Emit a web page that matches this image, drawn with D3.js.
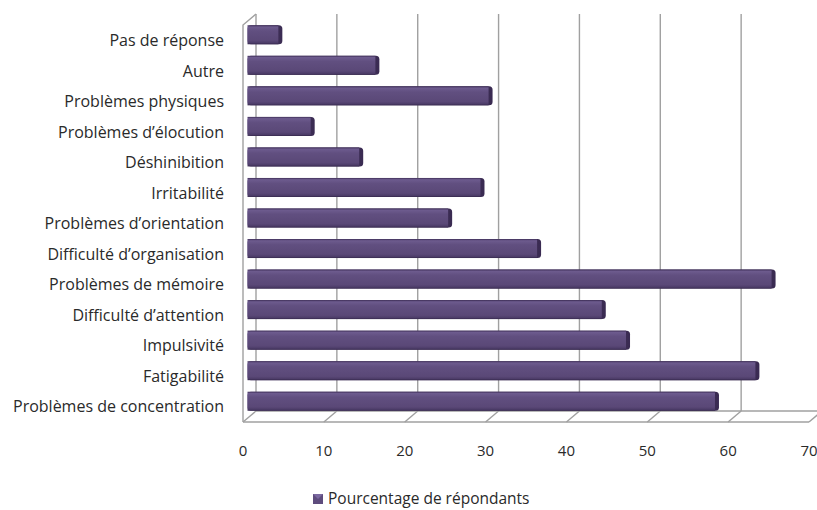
<!DOCTYPE html>
<html>
<head>
<meta charset="utf-8">
<script src="https://cdn.jsdelivr.net/npm/d3@7"></script>
<style>
  body { margin: 0; background: #fff; }
  text { font-family: "Open Sans", Lato, sans-serif; fill: #2a2a2a; }
</style>
</head>
<body>
<div id="chart"></div>
<script>
// data
var categories = ["Pas de réponse", "Autre", "Problèmes physiques", "Problèmes d’élocution",
  "Déshinibition", "Irritabilité", "Problèmes d’orientation", "Difficulté d’organisation",
  "Problèmes de mémoire", "Difficulté d’attention", "Impulsivité", "Fatigabilité",
  "Problèmes de concentration"];
var values = [4, 16, 30, 8, 14, 29, 25, 36, 65, 44, 47, 63, 58];
var tickValues = [0, 10, 20, 30, 40, 50, 60, 70];
var seriesName = "Pourcentage de répondants";

var svgWidth = 817;
var svgHeight = 510;

// front plane of the 3D box, and the shift to the back wall
var front = { left: 243, right: 809, top: 25, bottom: 422 };
var depth = { dx: 13, dy: -11 };
// bars sit a little behind the front plane
var barShift = { dx: 4.5, dy: -5.5 };
var barHeight = 19;
var gridColor = "#a0a0a0";

var svg = d3.select("#chart")
  .append("svg")
  .attr("width", svgWidth)
  .attr("height", svgHeight);

var defs = svg.append("defs");
var grad = defs.append("linearGradient")
  .attr("id", "barGrad")
  .attr("x1", 0).attr("y1", 0).attr("x2", 0).attr("y2", 1);
[["0%", "#3f2f58"], ["9%", "#6d5b8e"], ["30%", "#614f80"], ["80%", "#5a4877"], ["93%", "#4c3c68"], ["100%", "#35274b"]]
  .forEach(function(s) { grad.append("stop").attr("offset", s[0]).attr("stop-color", s[1]); });

var capGrad = defs.append("linearGradient")
  .attr("id", "capGrad")
  .attr("x1", 0).attr("y1", 0).attr("x2", 1).attr("y2", 0);
capGrad.append("stop").attr("offset", "0%").attr("stop-color", "#5a4877");
capGrad.append("stop").attr("offset", "100%").attr("stop-color", "#3a2b52");

var xScale = d3.scaleLinear()
  .domain([0, 70])
  .range([front.left, front.right]);

var yScale = d3.scaleBand()
  .domain(categories)
  .range([front.top, front.bottom]);

var grid = svg.append("g")
  .attr("fill", "none")
  .attr("stroke", gridColor)
  .attr("stroke-width", 1.4);

// back wall gridlines
grid.selectAll(".back")
  .data(tickValues)
  .enter()
  .append("line")
  .attr("x1", d => xScale(d) + depth.dx)
  .attr("x2", d => xScale(d) + depth.dx)
  .attr("y1", front.top + depth.dy)
  .attr("y2", front.bottom + depth.dy);

// floor
grid.append("line")
  .attr("x1", xScale(0)).attr("x2", xScale(70))
  .attr("y1", front.bottom).attr("y2", front.bottom);
grid.append("line")
  .attr("x1", xScale(0) + depth.dx).attr("x2", xScale(70) + depth.dx)
  .attr("y1", front.bottom + depth.dy).attr("y2", front.bottom + depth.dy);
grid.selectAll(".floor")
  .data(tickValues)
  .enter()
  .append("line")
  .attr("x1", d => xScale(d))
  .attr("x2", d => xScale(d) + depth.dx)
  .attr("y1", front.bottom)
  .attr("y2", front.bottom + depth.dy);

// left wall
grid.append("path")
  .attr("d", "M" + xScale(0) + "," + front.bottom +
    "V" + front.top +
    "L" + (xScale(0) + depth.dx) + "," + (front.top + depth.dy));

// bars
var barGroup = svg.append("g");
var rows = categories.map(function(c, i) { return { cat: c, val: values[i] }; });

var bars = barGroup.selectAll("g")
  .data(rows)
  .enter()
  .append("g")
  .attr("transform", d => "translate(" + (xScale(0) + barShift.dx) + "," +
    (yScale(d.cat) + yScale.bandwidth() / 2 + barShift.dy - barHeight / 2) + ")");

bars.append("rect")
  .attr("x", 0)
  .attr("y", 0)
  .attr("width", d => xScale(d.val) - xScale(0) + 2.5)
  .attr("height", barHeight)
  .attr("rx", 3.5)
  .attr("fill", "url(#capGrad)");

bars.append("rect")
  .attr("x", 0)
  .attr("y", 0)
  .attr("width", d => xScale(d.val) - xScale(0) - 1.5)
  .attr("height", barHeight)
  .attr("fill", "url(#barGrad)");

// category labels
svg.append("g")
  .selectAll("text")
  .data(categories)
  .enter()
  .append("text")
  .attr("x", 224)
  .attr("y", d => yScale(d) + yScale.bandwidth() / 2)
  .attr("dy", "0.36em")
  .attr("text-anchor", "end")
  .attr("font-size", 16)
  .text(d => d);

// value axis labels
svg.append("g")
  .selectAll("text")
  .data(tickValues)
  .enter()
  .append("text")
  .attr("x", d => xScale(d))
  .attr("y", 456)
  .attr("text-anchor", "middle")
  .attr("font-size", 15)
  .text(d => d);

// legend
var legend = svg.append("g").attr("transform", "translate(313, 494)");
legend.append("rect")
  .attr("width", 10).attr("height", 10)
  .attr("fill", "#5e4c7d");
legend.append("path")
  .attr("d", "M0,0H10L5,5Z")
  .attr("fill", "#7a68a0");
legend.append("text")
  .attr("x", 15)
  .attr("y", 10)
  .attr("font-size", 15.5)
  .text(seriesName);
</script>
</body>
</html>
